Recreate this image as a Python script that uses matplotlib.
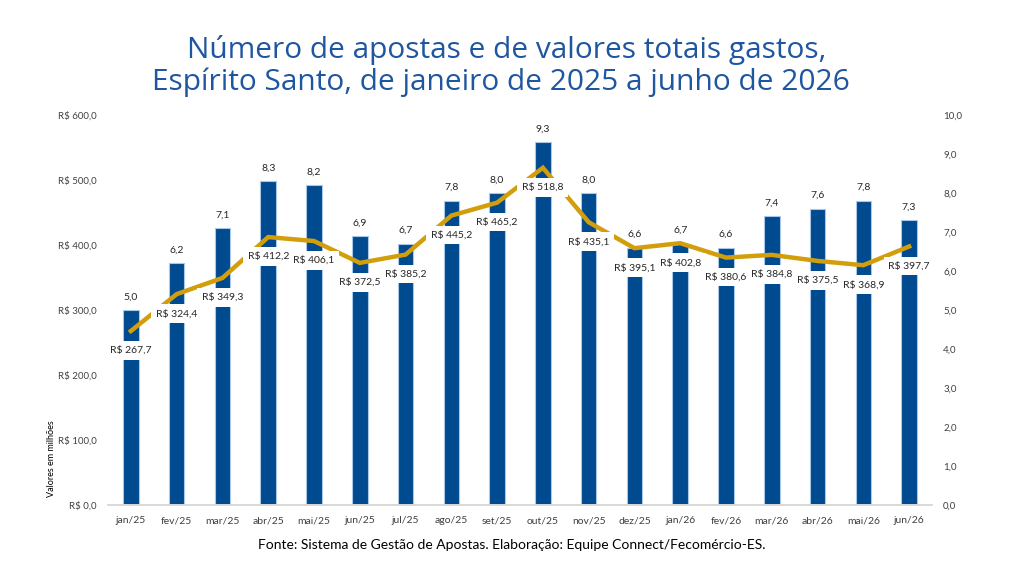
import matplotlib
matplotlib.use("Agg")
import matplotlib.pyplot as plt
import numpy as np

months = ["jan/25", "fev/25", "mar/25", "abr/25", "mai/25", "jun/25", "jul/25", "ago/25",
          "set/25", "out/25", "nov/25", "dez/25", "jan/26", "fev/26", "mar/26", "abr/26",
          "mai/26", "jun/26"]
apostas = [5.0, 6.2, 7.1, 8.3, 8.2, 6.9, 6.7, 7.8, 8.0, 9.3, 8.0, 6.6, 6.7, 6.6, 7.4, 7.6, 7.8, 7.3]
valores = [267.7, 324.4, 349.3, 412.2, 406.1, 372.5, 385.2, 445.2, 465.2, 518.8, 435.1,
           395.1, 402.8, 380.6, 384.8, 375.5, 368.9, 397.7]
left_ticks = [0, 100, 200, 300, 400, 500, 600]
right_ticks = [0, 1, 2, 3, 4, 5, 6, 7, 8, 9, 10]

def br(v, d=1):
    return f"{v:.{d}f}".replace(".", ",")

plt.rcParams['font.family'] = ['Lato', 'DejaVu Sans']

fig = plt.figure(figsize=(10.24, 5.80), dpi=100)
axL = fig.add_axes([108/1024, 1-505/580, 824/1024, 390/580])
axR = axL.twinx()

x = np.arange(len(months))
blue = "#004A8F"
gold = "#D39E0C"

axR.bar(x, apostas, width=0.34, color=blue, edgecolor="#A9C7E8", linewidth=0.8, zorder=2)
axR.set_ylim(0, 10)
axR.set_yticks(right_ticks)
axR.set_yticklabels([br(v) for v in right_ticks], fontsize=7)

# make left axis draw above right (line over bars)
axL.set_zorder(axR.get_zorder() + 1)
axL.patch.set_visible(False)
axL.plot(x, valores, color=gold, linewidth=3.2, solid_joinstyle="miter", zorder=3)
axL.set_ylim(0, 600)
axL.set_xlim(-0.5, len(months) - 0.5)
axL.set_yticks(left_ticks)
axL.set_yticklabels([f"R$ {br(v)}" for v in left_ticks], fontsize=7)
axL.set_xticks(x)
axL.set_xticklabels(months, fontsize=7.5)
axL.set_ylabel("Valores em milhões", fontsize=6.5)
axL.yaxis.set_label_coords(-0.063, 0.118)

for ax in (axL, axR):
    for s in ("top", "right", "left"):
        ax.spines[s].set_visible(False)
    ax.spines["bottom"].set_color("#D9D9D9")
    ax.spines["bottom"].set_linewidth(1.2)
    ax.tick_params(length=0, colors="#404040")
axL.tick_params(axis="y", pad=8)
axR.tick_params(axis="y", pad=8)
axL.tick_params(axis="x", pad=8)

for xi, v in zip(x, apostas):
    axR.annotate(br(v), (xi, v), xytext=(0, 9.5), textcoords="offset points",
                 ha="center", va="center", fontsize=7.5, color="#262626", zorder=5)

for xi, v in zip(x, valores):
    axL.annotate(f"R$ {br(v)}", (xi, v), xytext=(0, -14), textcoords="offset points",
                 ha="center", va="center", fontsize=7.5, color="#262626", zorder=6,
                 bbox=dict(boxstyle="square,pad=0.45", fc="white", ec="none"))

title_kw = dict(ha="center", va="center", fontsize=21.5, color="#1F56A0",
                family=["Open Sans", "DejaVu Sans"])
fig.text(0.495, 1-50/580, "Número de apostas e de valores totais gastos,", **title_kw)
fig.text(0.489, 1-82/580, "Espírito Santo, de janeiro de 2025 a junho de 2026", **title_kw)
fig.text(0.5, 1-545/580, "Fonte: Sistema de Gestão de Apostas. Elaboração: Equipe Connect/Fecomércio-ES.",
         ha="center", va="center", fontsize=10, color="#000000")

fig.savefig("out.png", dpi=100, facecolor="white")
